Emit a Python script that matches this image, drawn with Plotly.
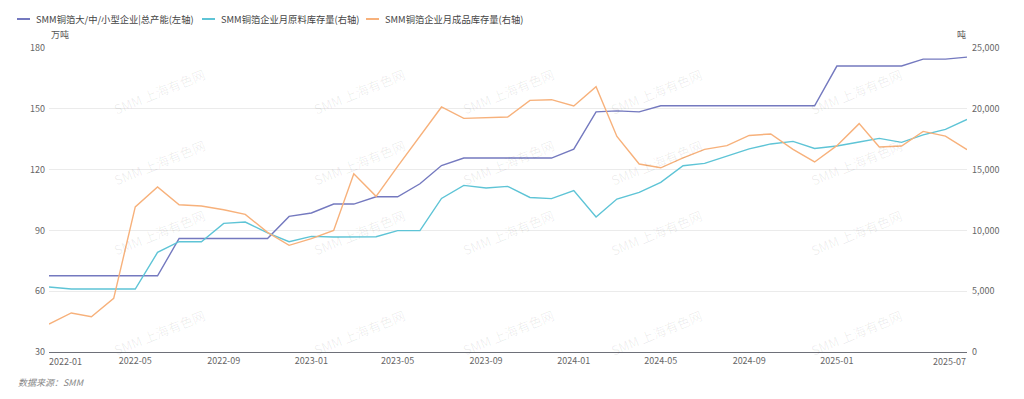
import plotly.graph_objects as go
import pandas as pd

months = [d.strftime("%Y-%m") for d in pd.date_range("2022-01-01", "2025-07-01", freq="MS")]

capacity = [67.6, 67.6, 67.6, 67.6, 67.6, 67.6, 86, 86, 86, 86, 86, 96.9, 98.6, 103,
            103, 106.6, 106.6, 113, 122, 125.7, 125.7, 125.7, 125.7, 125.7, 130.1, 148.5, 149, 148.5,
            151.5, 151.5, 151.5, 151.5, 151.5, 151.5, 151.5, 151.5, 171.1, 171.1, 171.1, 171.1, 174.5, 174.5, 175.5]

raw_stock = [5346, 5180, 5180, 5200, 5180, 8190, 9070, 9070, 10580, 10690, 9790, 9070, 9510, 9460,
             9480, 9480, 9980, 9980, 12630, 13700, 13490, 13620, 12710, 12610, 13270, 11100, 12580, 13130,
             13950, 15320, 15510, 16090, 16700, 17110, 17320, 16740, 16940, 17270, 17570, 17240, 17850, 18310, 19130]

fin_stock = [2300, 3210, 2900, 4410, 11930, 13570, 12110, 12010, 11700, 11320, 9840, 8770, 9320, 10000,
             14660, 12800, 15260, 17730, 20150, 19210, 19290, 19320, 20690, 20750, 20230, 21820, 17730, 15460,
             15150, 15960, 16660, 16970, 17810, 17930, 16660, 15630, 16970, 18780, 16860, 16940, 18140, 17760, 16640]

names = ["SMM铜箔大/中/小型企业|总产能(左轴)", "SMM铜箔企业月原料库存量(右轴)", "SMM铜箔企业月成品库存量(右轴)"]
colors = ["#7479BF", "#5EC4D6", "#F7B17B"]

left_ticks = [30, 60, 90, 120, 150, 180]
right_ticks = [0, 5000, 10000, 15000, 20000, 25000]
x_ticks = ["2022-05", "2022-09", "2023-01", "2023-05", "2023-09", "2024-01", "2024-05", "2024-09", "2025-01"]

FONT = "Noto Sans CJK SC, Noto Sans, sans-serif"

W, H = 1024, 399
ML, MR, MT, MB = 49, 57, 48, 47
PW, PH = W - ML - MR, H - MT - MB


def px_x(px):
    return (px - ML) / PW


def px_y(py):
    return (H - MB - py) / PH


fig = go.Figure()
fig.add_trace(go.Scatter(x=months, y=capacity, name=names[0], mode="lines",
                         line=dict(color=colors[0], width=1.4), yaxis="y"))
fig.add_trace(go.Scatter(x=months, y=raw_stock, name=names[1], mode="lines",
                         line=dict(color=colors[1], width=1.4), yaxis="y2"))
fig.add_trace(go.Scatter(x=months, y=fin_stock, name=names[2], mode="lines",
                         line=dict(color=colors[2], width=1.4), yaxis="y2"))

annotations = []
shapes = []
# watermark grid
for cx in [108, 308, 508, 708, 908]:
    for cy in [62, 162, 262, 362]:
        annotations.append(dict(text="SMM 上海有色网", xref="paper", yref="paper", x=px_x(cx), y=px_y(cy),
                                showarrow=False, textangle=-22,
                                font=dict(family=FONT, size=13, color="rgba(0,0,0,0.07)")))

# custom legend (short line symbols like the reference)
legend_px = [17, 202, 366]
for name, color, lx in zip(names, colors, legend_px):
    shapes.append(dict(type="line", xref="paper", yref="paper", x0=px_x(lx), x1=px_x(lx + 13),
                       y0=px_y(19), y1=px_y(19), line=dict(color=color, width=2)))
    annotations.append(dict(text=name, xref="paper", yref="paper", x=px_x(lx + 17), y=px_y(19),
                            xanchor="left", yanchor="middle", showarrow=False,
                            font=dict(family=FONT, size=9.3, color="#444")))

annotations += [
    dict(text="万吨", xref="paper", yref="paper", x=px_x(49), y=px_y(35), xanchor="left", yanchor="middle",
         showarrow=False, font=dict(family=FONT, size=9, color="#555")),
    dict(text="吨", xref="paper", yref="paper", x=px_x(968), y=px_y(35), xanchor="right", yanchor="middle",
         showarrow=False, font=dict(family=FONT, size=9, color="#555")),
    dict(text=months[0], xref="x", yref="paper", x=months[0], y=px_y(361), yanchor="middle", xanchor="left",
         xshift=-2, showarrow=False, font=dict(family=FONT, size=9, color="#666")),
    dict(text=months[-1], xref="x", yref="paper", x=months[-1], y=px_y(361), yanchor="middle", xanchor="right",
         xshift=1, showarrow=False, font=dict(family=FONT, size=9, color="#666")),
    dict(text="<i>数据来源：SMM</i>", xref="paper", yref="paper", x=px_x(16), y=px_y(382), yanchor="middle",
         xanchor="left", showarrow=False, font=dict(family=FONT, size=9, color="#888")),
]

fig.update_layout(
    width=W, height=H,
    margin=dict(l=ML, r=MR, t=MT, b=MB, autoexpand=False),
    paper_bgcolor="white", plot_bgcolor="white",
    font=dict(family=FONT, size=9, color="#666"),
    showlegend=False,
    xaxis=dict(type="date", range=[months[0], months[-1]], tickvals=x_ticks, ticktext=x_ticks,
               showgrid=False, showline=True, linecolor="#6E7079", linewidth=1, ticks="",
               tickfont=dict(size=9, color="#666"), zeroline=False, automargin=False),
    yaxis=dict(range=[30, 180], tickvals=left_ticks, showgrid=True, gridcolor="#EBEBEB",
               zeroline=False, showline=False, ticks="", tickfont=dict(size=9, color="#666"),
               automargin=False, ticklabelstandoff=3),
    yaxis2=dict(range=[0, 25000], tickvals=right_ticks, tickformat=",", overlaying="y", side="right",
                showgrid=False, zeroline=False, showline=False, ticks="",
                tickfont=dict(size=9, color="#666"), automargin=False, ticklabelstandoff=4),
    annotations=annotations,
    shapes=shapes,
    hovermode="x unified",
)

fig.write_html("out.html", config={"displayModeBar": False},
               post_script="document.body.style.margin='0';document.body.style.overflow='hidden';")
